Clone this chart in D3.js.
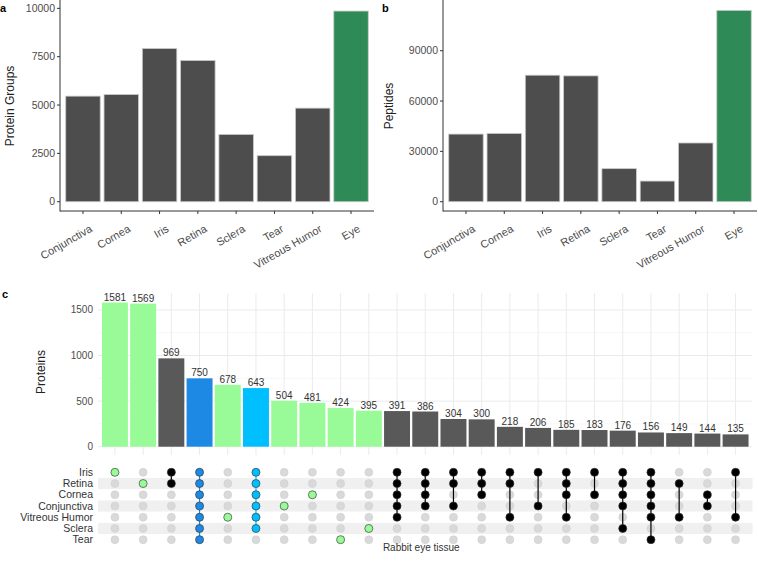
<!DOCTYPE html>
<html>
<head>
<meta charset="utf-8">
<script src="https://cdn.jsdelivr.net/npm/d3@7"></script>
<style>
  body { margin: 0; background: #fff; }
  svg { font-family: "Liberation Sans", Arial, sans-serif; }
</style>
</head>
<body>
<svg width="758" height="562"></svg>
<script>
// data
var tissues = ["Conjunctiva", "Cornea", "Iris", "Retina", "Sclera", "Tear", "Vitreous Humor", "Eye"];
var proteinGroups = [5460, 5540, 7920, 7300, 3480, 2380, 4840, 9860];
var peptides = [40300, 40700, 75400, 75000, 19700, 12300, 35000, 114000];
var ticksA = [0, 2500, 5000, 7500, 10000];
var ticksB = [0, 30000, 60000, 90000];

var sets = ["Iris", "Retina", "Cornea", "Conjunctiva", "Vitreous Humor", "Sclera", "Tear"];
var counts = [1581, 1569, 969, 750, 678, 643, 504, 481, 424, 395, 391, 386, 304, 300, 218, 206, 185, 183, 176, 156, 149, 144, 135];
var members = [
  ["Iris"], ["Retina"], ["Iris", "Retina"],
  ["Iris", "Retina", "Cornea", "Conjunctiva", "Vitreous Humor", "Sclera", "Tear"],
  ["Vitreous Humor"],
  ["Iris", "Retina", "Cornea", "Conjunctiva", "Vitreous Humor", "Sclera"],
  ["Conjunctiva"], ["Cornea"], ["Tear"], ["Sclera"],
  ["Iris", "Retina", "Cornea", "Conjunctiva", "Vitreous Humor"],
  ["Iris", "Retina", "Cornea", "Conjunctiva"],
  ["Iris", "Retina", "Conjunctiva"],
  ["Iris", "Retina", "Cornea"],
  ["Iris", "Retina", "Vitreous Humor"],
  ["Iris", "Conjunctiva"],
  ["Iris", "Retina", "Cornea", "Vitreous Humor"],
  ["Iris", "Cornea"],
  ["Iris", "Retina", "Cornea", "Conjunctiva", "Sclera"],
  ["Iris", "Retina", "Cornea", "Conjunctiva", "Vitreous Humor", "Tear"],
  ["Retina", "Vitreous Humor"],
  ["Cornea", "Conjunctiva"],
  ["Iris", "Vitreous Humor"]
];
var ticksC = [0, 500, 1000, 1500];

var svg = d3.select("svg");
var axisCol = "#333", labCol = "#4d4d4d";

// kleur van een kolom (zoals queries in UpSetR)
function colColor(m) {
  if (m.length == 1) return "#98fb98";
  if (m.length == 7) return "#1e88e5";
  if (m.length == 6 && m.indexOf("Tear") < 0) return "#00bfff";
  return null;
}

// panel a en b
function barPanel(x0, x1, vals, domain, ticks, title, titleX, letter, letterX) {
  var x = d3.scaleBand().domain(tissues).range([x0, x1]).paddingInner(0.1).paddingOuter(0.15);
  var y = d3.scaleLinear().domain(domain).range([211, 1]);
  var g = svg.append("g");

  g.selectAll(".bar").data(vals).enter().append("rect")
    .attr("x", function(d, i) { return x(tissues[i]); })
    .attr("y", function(d) { return y(d); })
    .attr("width", x.bandwidth())
    .attr("height", function(d) { return y(0) - y(d); })
    .style("fill", function(d, i) { return tissues[i] == "Eye" ? "#2e8b57" : "#4d4d4d"; })
    .style("stroke", "#c8c8c8").style("stroke-width", 0.8);

  g.append("line").attr("x1", x0).attr("x2", x0).attr("y1", 0).attr("y2", 211.5)
    .style("stroke", axisCol).style("stroke-width", 1);
  g.append("line").attr("x1", x0).attr("x2", x1).attr("y1", 211).attr("y2", 211)
    .style("stroke", axisCol).style("stroke-width", 1);

  ticks.forEach(function(t) {
    g.append("line").attr("x1", x0 - 3).attr("x2", x0).attr("y1", y(t)).attr("y2", y(t))
      .style("stroke", axisCol);
    g.append("text").attr("x", x0 - 5).attr("y", y(t)).attr("dy", "0.35em")
      .attr("text-anchor", "end").style("font-size", "10.5px").style("fill", labCol).text(t);
  });

  tissues.forEach(function(t) {
    var cx = x(t) + x.bandwidth() / 2;
    g.append("line").attr("x1", cx).attr("x2", cx).attr("y1", 211).attr("y2", 214)
      .style("stroke", axisCol);
    g.append("text")
      .attr("transform", "translate(" + (cx + 10) + ",231) rotate(-30)")
      .attr("text-anchor", "end").style("font-size", "11px").style("fill", labCol).text(t);
  });

  g.append("text").attr("transform", "translate(" + titleX + ",106) rotate(-90)")
    .attr("text-anchor", "middle").style("font-size", "12px").style("fill", "#222").text(title);
  g.append("text").attr("x", letterX).attr("y", 12).style("font-size", "11px")
    .style("font-weight", "bold").text(letter);
}

barPanel(60, 374, proteinGroups, [-480, 10380], ticksA, "Protein Groups", 14, "a", 0);
barPanel(443, 757, peptides, [-5540, 119630], ticksB, "Peptides", 393, "b", 382);

// panel c: upset plot
var xC = d3.scaleBand().domain(d3.range(counts.length)).range([98, 752.5]).paddingInner(0.08).paddingOuter(0.14);
var yC = d3.scaleLinear().domain([-91, 1686]).range([455, 293]);
var gc = svg.append("g");

[250, 750, 1250].forEach(function(t) {
  gc.append("line").attr("x1", 98).attr("x2", 752.5).attr("y1", yC(t)).attr("y2", yC(t))
    .style("stroke", "#f2f2f2").style("stroke-width", 0.6);
});
ticksC.forEach(function(t) {
  gc.append("line").attr("x1", 98).attr("x2", 752.5).attr("y1", yC(t)).attr("y2", yC(t))
    .style("stroke", "#ebebeb").style("stroke-width", 1);
  gc.append("text").attr("x", 93).attr("y", yC(t)).attr("dy", "0.35em")
    .attr("text-anchor", "end").style("font-size", "10px").style("fill", labCol).text(t);
});
counts.forEach(function(c, i) {
  var cx = xC(i) + xC.bandwidth() / 2;
  gc.append("line").attr("x1", cx).attr("x2", cx).attr("y1", 293).attr("y2", 455)
    .style("stroke", "#ebebeb").style("stroke-width", 1);
});

gc.selectAll(".bar").data(counts).enter().append("rect")
  .attr("x", function(d, i) { return xC(i); })
  .attr("y", function(d) { return yC(d); })
  .attr("width", xC.bandwidth())
  .attr("height", function(d) { return yC(0) - yC(d); })
  .style("fill", function(d, i) { return colColor(members[i]) || "#595959"; });

gc.selectAll(".lab").data(counts).enter().append("text")
  .attr("x", function(d, i) { return xC(i) + xC.bandwidth() / 2; })
  .attr("y", function(d) { return yC(d) - 2; })
  .attr("text-anchor", "middle").style("font-size", "10px").style("fill", "#333")
  .text(function(d) { return d; });

gc.append("text").attr("transform", "translate(45,372) rotate(-90)")
  .attr("text-anchor", "middle").style("font-size", "12px").style("fill", "#222").text("Proteins");
gc.append("text").attr("x", 2).attr("y", 298).style("font-size", "11px")
  .style("font-weight", "bold").text("c");

// matrix
var yM = d3.scaleBand().domain(sets).range([466.7, 545.3]);
var gm = svg.append("g");
sets.forEach(function(s, j) {
  if (j % 2 == 1) {
    gm.append("rect").attr("x", 98).attr("y", yM(s)).attr("width", 654.5).attr("height", yM.bandwidth())
      .style("fill", "#f0f0f0");
  }
  gm.append("text").attr("x", 93).attr("y", yM(s) + yM.bandwidth() / 2).attr("dy", "0.35em")
    .attr("text-anchor", "end").style("font-size", "10.5px").style("fill", "#333").text(s);
});

counts.forEach(function(c, i) {
  var cx = xC(i) + xC.bandwidth() / 2;
  var m = members[i];
  var col = colColor(m) || "#000";
  sets.forEach(function(s) {
    gm.append("circle").attr("cx", cx).attr("cy", yM(s) + yM.bandwidth() / 2).attr("r", 4)
      .style("fill", "#d9d9d9").style("stroke", "#cccccc").style("stroke-width", 0.5);
  });
  if (m.length > 1) {
    var ys = m.map(function(s) { return yM(s) + yM.bandwidth() / 2; });
    gm.append("line").attr("x1", cx).attr("x2", cx).attr("y1", d3.min(ys)).attr("y2", d3.max(ys))
      .style("stroke", m.length > 5 && col != "#000" ? col : "#000").style("stroke-width", 1.2);
  }
  m.forEach(function(s) {
    gm.append("circle").attr("cx", cx).attr("cy", yM(s) + yM.bandwidth() / 2).attr("r", 4)
      .style("fill", col).style("stroke", "#333").style("stroke-width", 0.6);
  });
});

gm.append("text").attr("x", (98 + 752.5) / 2 - 4).attr("y", 551).attr("text-anchor", "middle")
  .style("font-size", "10px").style("fill", "#333").text("Rabbit eye tissue");
</script>
</body>
</html>
